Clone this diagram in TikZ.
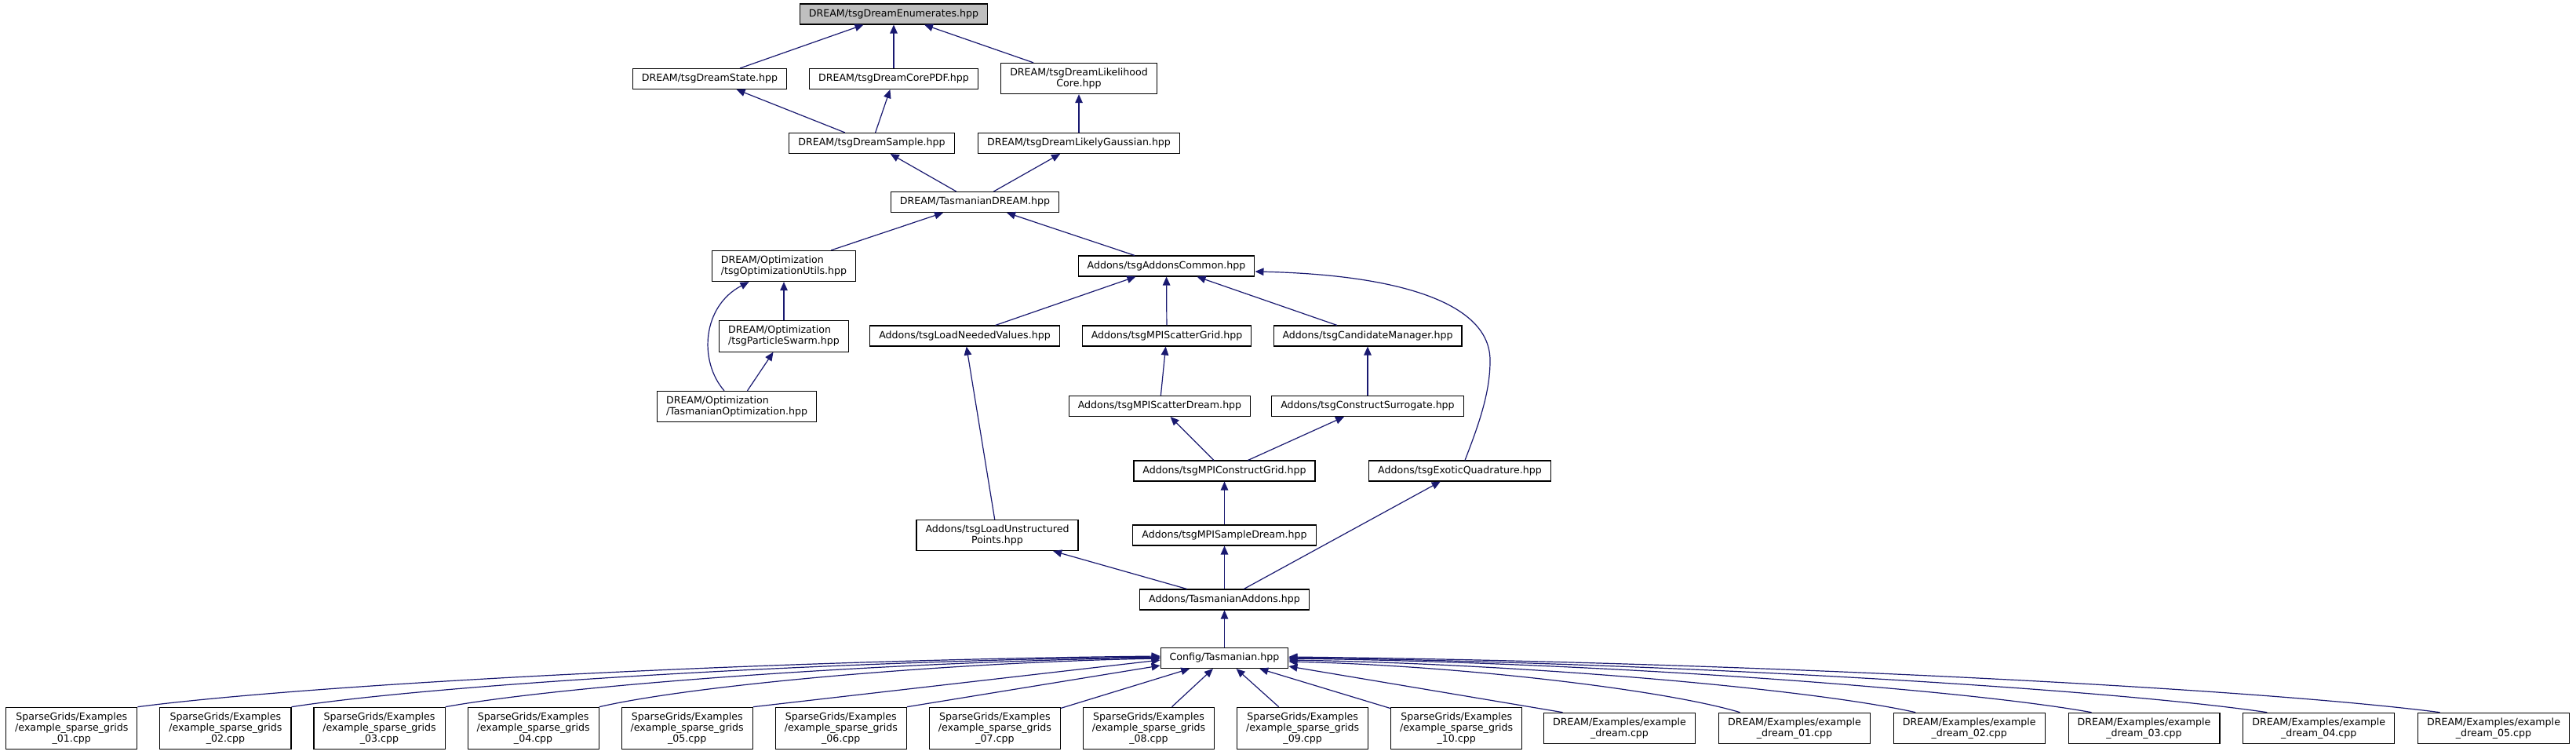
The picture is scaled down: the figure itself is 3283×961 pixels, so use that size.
\documentclass[tikz,border=0pt]{standalone}
\usepackage{fontspec}
\setmainfont{DejaVu Sans}
\usetikzlibrary{arrows.meta}
\definecolor{edgeblue}{HTML}{191970}
\definecolor{curgrey}{HTML}{BFBFBF}

\begin{document}
\begin{tikzpicture}[
  x=1pt, y=-1pt,
  font=\fontsize{12.6pt}{14pt}\selectfont,
  file/.style={draw=black,line width=1.1pt,fill=white,inner xsep=11.5pt,inner ysep=6.5pt,minimum height=26pt,align=center},
  filel/.style={file,align=left},
  cur/.style={file,fill=curgrey},
  ar/.style={draw=edgeblue,line width=1.2pt,-{Triangle[length=11pt,width=9.5pt]}}
]
\useasboundingbox (0,0) rectangle (3283,961);

% DREAM headers
\node[cur]  (enum)   at (1139,18)      {DREAM/tsgDreamEnumerates.hpp};
\node[file] (state)  at (904.5,100.5)  {DREAM/tsgDreamState.hpp};
\node[file] (pdf)    at (1139,100.5)   {DREAM/tsgDreamCorePDF.hpp};
\node[file] (likec)  at (1375,100)     {DREAM/tsgDreamLikelihood\\Core.hpp};
\node[file] (sample) at (1111,182.5)   {DREAM/tsgDreamSample.hpp};
\node[file] (gauss)  at (1375,182.5)   {DREAM/tsgDreamLikelyGaussian.hpp};
\node[file] (tdream) at (1242.5,257.5) {DREAM/TasmanianDREAM.hpp};
\node[filel] (optu)  at (999,339)      {DREAM/Optimization\\/tsgOptimizationUtils.hpp};
\node[filel] (swarm) at (999,428.5)    {DREAM/Optimization\\/tsgParticleSwarm.hpp};
\node[filel] (topt)  at (939,518)      {DREAM/Optimization\\/TasmanianOptimization.hpp};

% Addons headers
\node[file] (common)  at (1486.5,339)  {Addons/tsgAddonsCommon.hpp};
\node[file] (needed)  at (1229.5,428)  {Addons/tsgLoadNeededValues.hpp};
\node[file] (scgrid)  at (1487,428)    {Addons/tsgMPIScatterGrid.hpp};
\node[file] (cand)    at (1743,428)    {Addons/tsgCandidateManager.hpp};
\node[file] (scdream) at (1478,517.5)  {Addons/tsgMPIScatterDream.hpp};
\node[file] (surr)    at (1743,517.5)  {Addons/tsgConstructSurrogate.hpp};
\node[file] (cgrid)   at (1560.5,600)  {Addons/tsgMPIConstructGrid.hpp};
\node[file] (exotic)  at (1860.5,600)  {Addons/tsgExoticQuadrature.hpp};
\node[file] (unstr)   at (1271,682)    {Addons/tsgLoadUnstructured\\Points.hpp};
\node[file] (sdream)  at (1560.5,682)  {Addons/tsgMPISampleDream.hpp};
\node[file] (taddons) at (1560.5,764)  {Addons/TasmanianAddons.hpp};
\node[file] (config)  at (1560.5,838.5) {Config/Tasmanian.hpp};

% examples
\node[file] (sg01) at (91.3,928)   {SparseGrids/Examples\\/example\_sparse\_grids\\\_01.cpp};
\node[file] (sg02) at (287.4,928)  {SparseGrids/Examples\\/example\_sparse\_grids\\\_02.cpp};
\node[file] (sg03) at (483.5,928)  {SparseGrids/Examples\\/example\_sparse\_grids\\\_03.cpp};
\node[file] (sg04) at (679.6,928)  {SparseGrids/Examples\\/example\_sparse\_grids\\\_04.cpp};
\node[file] (sg05) at (875.7,928)  {SparseGrids/Examples\\/example\_sparse\_grids\\\_05.cpp};
\node[file] (sg06) at (1071.8,928) {SparseGrids/Examples\\/example\_sparse\_grids\\\_06.cpp};
\node[file] (sg07) at (1267.9,928) {SparseGrids/Examples\\/example\_sparse\_grids\\\_07.cpp};
\node[file] (sg08) at (1464,928)   {SparseGrids/Examples\\/example\_sparse\_grids\\\_08.cpp};
\node[file] (sg09) at (1660.1,928) {SparseGrids/Examples\\/example\_sparse\_grids\\\_09.cpp};
\node[file] (sg10) at (1856.2,928) {SparseGrids/Examples\\/example\_sparse\_grids\\\_10.cpp};
\node[file] (dex)   at (2064,928)    {DREAM/Examples/example\\\_dream.cpp};
\node[file] (dex01) at (2287,928)    {DREAM/Examples/example\\\_dream\_01.cpp};
\node[file] (dex02) at (2509.75,928) {DREAM/Examples/example\\\_dream\_02.cpp};
\node[file] (dex03) at (2732.5,928)  {DREAM/Examples/example\\\_dream\_03.cpp};
\node[file] (dex04) at (2955.25,928) {DREAM/Examples/example\\\_dream\_04.cpp};
\node[file] (dex05) at (3178,928)    {DREAM/Examples/example\\\_dream\_05.cpp};

% include edges
\draw[ar] (state) -- (enum);
\draw[ar] (pdf) -- (enum);
\draw[ar] (likec) -- (enum);
\draw[ar] (sample) -- (state);
\draw[ar] (sample) -- (pdf);
\draw[ar] (gauss) -- (likec);
\draw[ar] (tdream) -- (sample);
\draw[ar] (tdream) -- (gauss);
\draw[ar] (optu) -- (tdream);
\draw[ar] (common) -- (tdream);
\draw[ar] (swarm) -- (optu);
\draw[ar] ([xshift=-16pt]topt.north) .. controls (890,460) and (895,390) .. ([xshift=-44.5pt]optu.south);
\draw[ar] (topt) -- (swarm);
\draw[ar] (needed) -- (common);
\draw[ar] (scgrid) -- (common);
\draw[ar] (cand) -- (common);
\draw[ar] ([xshift=6.5pt]exotic.north) .. controls (1885,540) and (1899,500) .. (1899,460)
  .. controls (1900,385) and (1780,350) .. ([yshift=-7pt]common.east);
\draw[ar] (unstr) -- (needed);
\draw[ar] (scdream) -- (scgrid);
\draw[ar] (surr) -- (cand);
\draw[ar] (cgrid) -- (scdream);
\draw[ar] (cgrid) -- (surr);
\draw[ar] (sdream) -- (cgrid);
\draw[ar] (taddons) -- (unstr);
\draw[ar] (taddons) -- (sdream);
\draw[ar] (taddons) -- (exotic);
\draw[ar] (config) -- (taddons);

% examples into Config
\draw[ar] (sg01.north east) .. controls +(221,-29) and +(-494,5) .. ([yshift=2.5pt]config.west);
\draw[ar] (sg02.north east) .. controls +(188,-29) and +(-420,5) .. ([yshift=1.5pt]config.west);
\draw[ar] (sg03.north east) .. controls +(155,-28) and +(-345,5) .. ([yshift=0.5pt]config.west);
\draw[ar] (sg04.north east) .. controls +(121,-28) and +(-271,5) .. ([yshift=-0.5pt]config.west);
\draw[ar] (sg05.north east) -- ([yshift=-2.5pt]config.west);
\draw[ar] (sg06.north east) -- ([yshift=-9.5pt]config.west);
\draw[ar] (sg07) -- (config);
\draw[ar] (sg08) -- (config);
\draw[ar] (sg09) -- (config);
\draw[ar] (sg10) -- (config);
\draw[ar] ([xshift=24.5pt]dex.north west) -- ([yshift=-10.5pt]config.east);
\draw[ar] ([xshift=27.5pt]dex01.north west) .. controls +(-97,-29) and +(217,5) .. ([yshift=-4.5pt]config.east);
\draw[ar] ([xshift=28.5pt]dex02.north west) .. controls +(-135,-30) and +(302,5) .. ([yshift=-2.5pt]config.east);
\draw[ar] ([xshift=30pt]dex03.north west) .. controls +(-173,-31) and +(388,5) .. ([yshift=-0.5pt]config.east);
\draw[ar] ([xshift=31pt]dex04.north west) .. controls +(-211,-31) and +(473,6) .. ([yshift=0.5pt]config.east);
\draw[ar] ([xshift=28.5pt]dex05.north west) .. controls +(-249,-32) and +(556,6) .. ([yshift=1.5pt]config.east);
\end{tikzpicture}
\end{document}
